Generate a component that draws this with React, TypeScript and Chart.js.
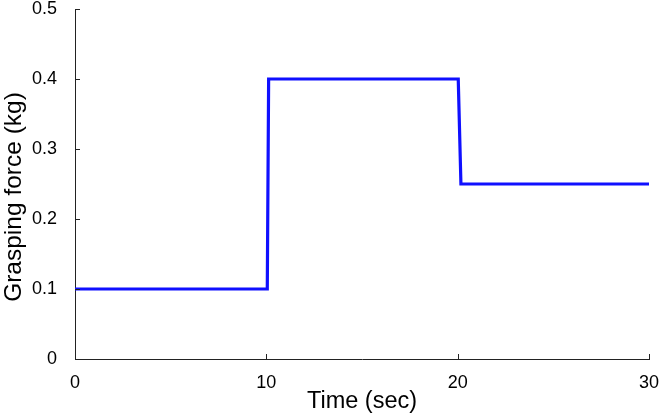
import React, { useEffect, useRef } from "react";
import { Chart, registerables } from "chart.js";

Chart.register(...registerables);

const timeSec = [0, 10.05, 10.12, 20.03, 20.17, 30];
const forceKg = [0.1, 0.1, 0.4, 0.4, 0.25, 0.25];
const xTickValues = [0, 10, 20, 30];
const yTickValues = [0, 0.1, 0.2, 0.3, 0.4, 0.5];
const xTitle = "Time (sec)";
const yTitle = "Grasping force (kg)";

const FONT = "'Liberation Sans', Arial, sans-serif";

const inwardTicks = {
  id: "inwardTicks",
  afterDraw(chart: any) {
    const ctx = chart.ctx;
    const xs = chart.scales.x;
    const ys = chart.scales.y;
    const ca = chart.chartArea;
    ctx.save();
    ctx.strokeStyle = "#222";
    ctx.lineWidth = 1;
    ctx.beginPath();
    for (const v of xTickValues) {
      const px = Math.round(xs.getPixelForValue(v)) + 0.5;
      ctx.moveTo(px, ca.bottom);
      ctx.lineTo(px, ca.bottom - 5);
    }
    for (const v of yTickValues) {
      const py = Math.round(ys.getPixelForValue(v)) + 0.5;
      ctx.moveTo(ca.left, py);
      ctx.lineTo(ca.left + 5, py);
    }
    ctx.stroke();
    // y axis title, placed slightly below the axis centre as in the original
    ctx.translate(21, (ca.top + ca.bottom) / 2 + 13);
    ctx.rotate(-Math.PI / 2);
    ctx.fillStyle = "#000";
    ctx.font = `24.5px ${FONT}`;
    ctx.textAlign = "center";
    ctx.textBaseline = "alphabetic";
    ctx.fillText(yTitle, 0, 0);
    ctx.restore();
  },
};

function zeroPad(scale: any) {
  scale.paddingLeft = 0;
  scale.paddingRight = 0;
  scale.paddingTop = 0;
  scale.paddingBottom = 0;
}

export default function App() {
  const ref = useRef<HTMLCanvasElement>(null);
  useEffect(() => {
    document.body.style.margin = "0";
    const chart = new Chart(ref.current!, {
      type: "line",
      data: {
        datasets: [
          {
            data: timeSec.map((t, i) => ({ x: t, y: forceKg[i] })),
            borderColor: "#1010ff",
            borderWidth: 3.2,
            pointRadius: 0,
            fill: false,
            tension: 0,
          },
        ],
      },
      options: {
        animation: false,
        responsive: false,
        maintainAspectRatio: false,
        layout: { padding: { top: 9, right: 12, left: 0, bottom: 0 } },
        plugins: { legend: { display: false }, tooltip: { enabled: false } },
        scales: {
          x: {
            type: "linear",
            min: 0,
            max: 30,
            afterFit(scale: any) {
              scale.height = 57;
              zeroPad(scale);
            },
            afterBuildTicks(scale: any) {
              scale.ticks = xTickValues.map((v) => ({ value: v }));
            },
            grid: { display: false, drawTicks: false },
            border: { display: true, color: "#222", width: 1 },
            ticks: {
              padding: 13,
              color: "#000",
              font: { family: FONT, size: 18 },
              maxRotation: 0,
            },
            title: {
              display: true,
              text: xTitle,
              color: "#000",
              font: { family: FONT, size: 23.5, lineHeight: 1.2 },
              padding: { top: 0, bottom: 0 },
            },
          },
          y: {
            type: "linear",
            min: 0,
            max: 0.5,
            afterFit(scale: any) {
              scale.width = 75;
              zeroPad(scale);
            },
            afterBuildTicks(scale: any) {
              scale.ticks = yTickValues.map((v) => ({ value: v }));
            },
            grid: { display: false, drawTicks: false },
            border: { display: true, color: "#222", width: 1 },
            ticks: {
              padding: 18,
              color: "#000",
              font: { family: FONT, size: 18 },
            },
            title: { display: false },
          },
        },
      },
      plugins: [inwardTicks],
    });
    return () => chart.destroy();
  }, []);
  return (
    <div style={{ position: "absolute", left: 0, top: 0, width: 661, height: 416 }}>
      <canvas ref={ref} width={661} height={416} style={{ width: 661, height: 416 }} />
    </div>
  );
}
